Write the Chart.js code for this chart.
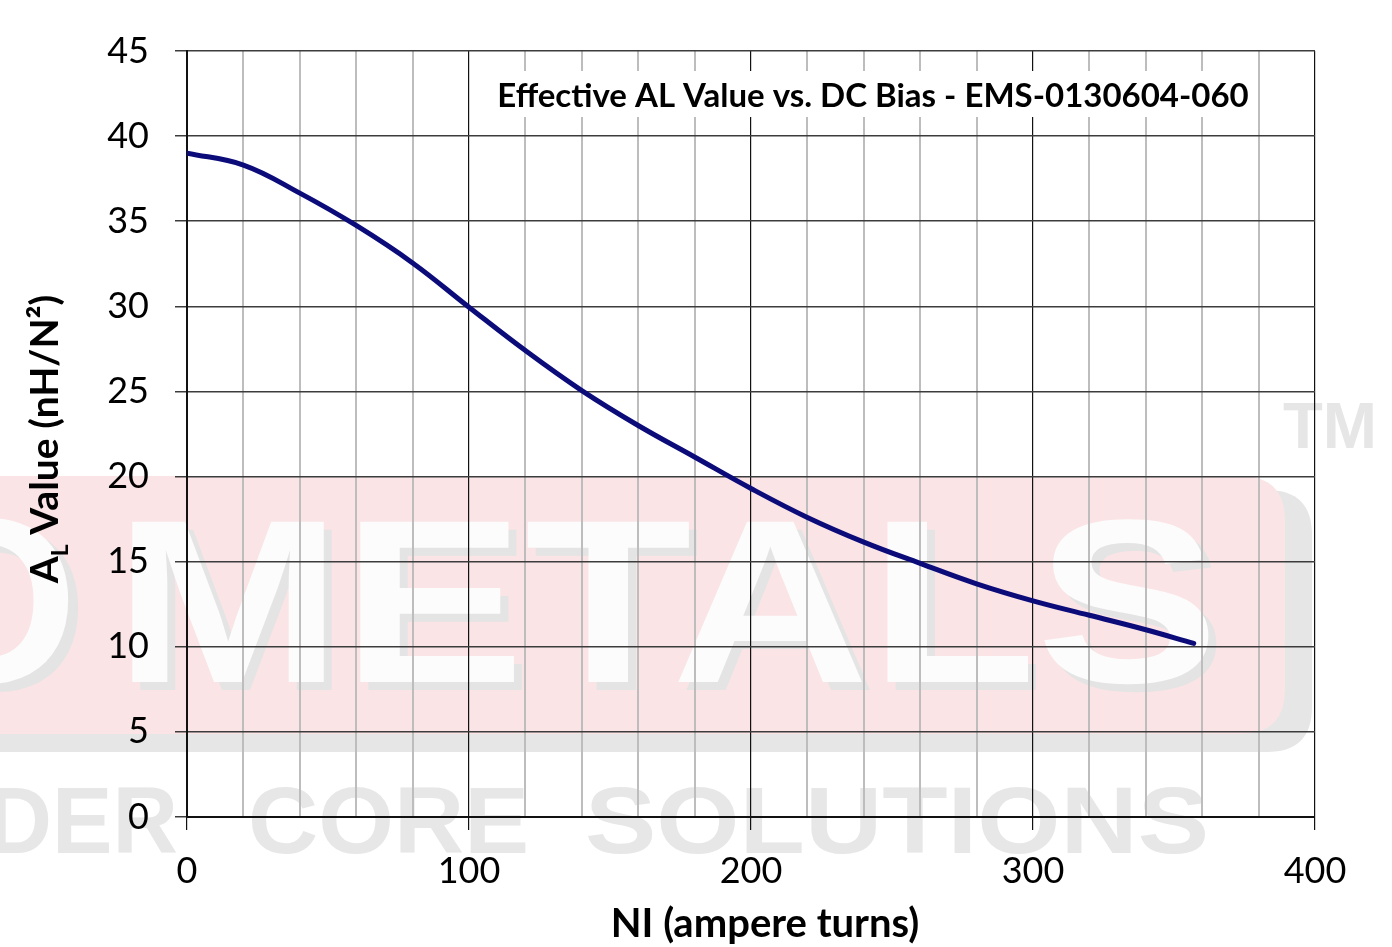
<!DOCTYPE html>
<html>
<head>
<meta charset="utf-8">
<script src="https://cdn.jsdelivr.net/npm/chart.js@4.4.1/dist/chart.umd.min.js"></script>
<style>
  html, body { margin: 0; padding: 0; background: #fff; }
  #myChart { display: block; }
</style>
</head>
<body>
<canvas id="myChart" width="1392" height="947"></canvas>
<script>
// NI (ampere turns) and effective AL (nH/N^2)
const niValues = [0, 20, 40, 60, 80, 100, 120, 140, 160, 180, 200, 220, 240, 260, 280, 300, 320, 340, 357];
const alValues = [39.0, 38.3, 36.65, 34.75, 32.55, 29.95, 27.4, 25.05, 23.0, 21.15, 19.3, 17.6, 16.15, 14.9, 13.7, 12.7, 11.85, 11.0, 10.2];

const xTicks = [0, 100, 200, 300, 400];
const yTicks = [0, 5, 10, 15, 20, 25, 30, 35, 40, 45];

const chartTitle = "Effective AL Value vs. DC Bias - EMS-0130604-060";
const xTitle = "NI (ampere turns)";

const font = "Lato, 'Open Sans', sans-serif";

let points = niValues.map((x, i) => ({ x: x, y: alValues[i] }));

// draws one word squeezed into a given span
function fitWord(c, text, x0, x1, baseline, size, color) {
  c.save();
  c.font = "bold " + size + "px 'Liberation Sans', Arial, sans-serif";
  let w = c.measureText(text).width;
  let s = (x1 - x0) / w;
  c.translate(x0, baseline);
  c.scale(s, 1);
  c.fillStyle = color;
  c.textAlign = "left";
  c.textBaseline = "alphabetic";
  c.fillText(text, 0, 0);
  c.restore();
}

function roundRect(c, x, y, w, h, r, color) {
  c.beginPath();
  c.moveTo(x + r, y);
  c.lineTo(x + w - r, y);
  c.quadraticCurveTo(x + w, y, x + w, y + r);
  c.lineTo(x + w, y + h - r);
  c.quadraticCurveTo(x + w, y + h, x + w - r, y + h);
  c.lineTo(x + r, y + h);
  c.quadraticCurveTo(x, y + h, x, y + h - r);
  c.lineTo(x, y + r);
  c.quadraticCurveTo(x, y, x + r, y);
  c.closePath();
  c.fillStyle = color;
  c.fill();
}

const watermark = {
  id: "watermark",
  beforeDraw(chart) {
    let c = chart.ctx;
    c.save();
    c.fillStyle = "#fff";
    c.fillRect(0, 0, chart.width, chart.height);
    // logo plate
    roundRect(c, -80, 490, 1392, 262, 45, "#e6e6e6");
    roundRect(c, -80, 476, 1365, 258, 45, "#fbe4e6");
    // METALS letters with shadow
    fitWord(c, "O", -95, 88, 690, 233, "#e4e4e4");
    fitWord(c, "O", -105, 78, 682, 233, "#fcfcfc");
    fitWord(c, "METALS", 122, 1227, 690, 233, "#e4e4e4");
    fitWord(c, "METALS", 114, 1219, 682, 233, "#fcfcfc");
    // POWDER CORE SOLUTIONS
    fitWord(c, "POWDER", -230, 178, 853, 95, "#e7e7e7");
    fitWord(c, "CORE", 248, 529, 853, 95, "#e7e7e7");
    fitWord(c, "SOLUTIONS", 585, 1209, 853, 95, "#e7e7e7");
    fitWord(c, "TM", 1283, 1377, 448, 64, "#e6e6e6");
    c.restore();
  },
  afterDraw(chart) {
    let c = chart.ctx;
    c.save();
    // chart title inside the plot
    c.fillStyle = "#fff";
    c.fillRect(488, 71, 770, 46);
    c.fillStyle = "#000";
    c.font = "bold 33px " + font;
    c.textAlign = "center";
    c.textBaseline = "middle";
    c.fillText(chartTitle, 873, 96);

    // x axis title
    c.font = "bold 40px " + font;
    c.fillText(xTitle, 765, 924);

    // y axis title with subscript L
    c.translate(44, 439);
    c.rotate(-Math.PI / 2);
    let big = "bold 39px " + font;
    let small = "bold 23px " + font;
    c.font = big;
    let wA = c.measureText("A").width;
    let rest = " Value (nH/N\u00B2)";
    let wRest = c.measureText(rest).width;
    c.font = small;
    let wL = c.measureText("L").width;
    let total = wA + wL + wRest;
    let x = -total / 2;
    c.textAlign = "left";
    c.textBaseline = "alphabetic";
    c.font = big;
    c.fillText("A", x, 14);
    c.font = small;
    c.fillText("L", x + wA, 24);
    c.font = big;
    c.fillText(rest, x + wA + wL, 14);
    c.restore();
  }
};

const ctx = document.getElementById("myChart");
new Chart(ctx, {
  type: "scatter",
  data: {
    datasets: [
      {
        label: "AL",
        data: points,
        showLine: true,
        borderColor: "#0b0b7a",
        borderWidth: 5,
        borderCapStyle: "round",
        pointRadius: 0,
        tension: 0.4,
      },
    ],
  },
  options: {
    responsive: false,
    animation: false,
    layout: { padding: { top: 51, right: 77, left: 0, bottom: 0 } },
    plugins: {
      legend: { display: false },
      tooltip: { enabled: false },
    },
    scales: {
      x: {
        type: "linear",
        min: 0,
        max: 400,
        afterFit(scale) { scale.height = 130; },
        ticks: {
          stepSize: 20,
          autoSkip: false,
          maxRotation: 0,
          padding: 20,
          color: "#000",
          font: { family: font, size: 36 },
          callback: (v) => (xTicks.includes(v) ? v : ""),
        },
        grid: {
          color: (c) => (c.tick && c.tick.value % 100 === 0 ? "#111" : "#bdbdbd"),
          lineWidth: (c) => (c.tick && c.tick.value % 100 === 0 ? 1.2 : 2),
          tickColor: (c) => (c.tick && c.tick.value % 100 === 0 ? "#111" : "rgba(0,0,0,0)"),
          tickLength: 13,
          drawTicks: true,
        },
        border: { color: "#111", width: 2 },
      },
      y: {
        min: 0,
        max: 45,
        afterFit(scale) { scale.width = 187; },
        ticks: {
          stepSize: 5,
          padding: 26,
          color: "#000",
          font: { family: font, size: 36 },
          callback: (v) => (yTicks.includes(v) ? v : ""),
        },
        grid: {
          color: "#3c3c3c",
          lineWidth: 1.5,
          tickLength: 12,
        },
        border: { color: "#111", width: 2 },
      },
    },
  },
  plugins: [watermark],
});
</script>
</body>
</html>
